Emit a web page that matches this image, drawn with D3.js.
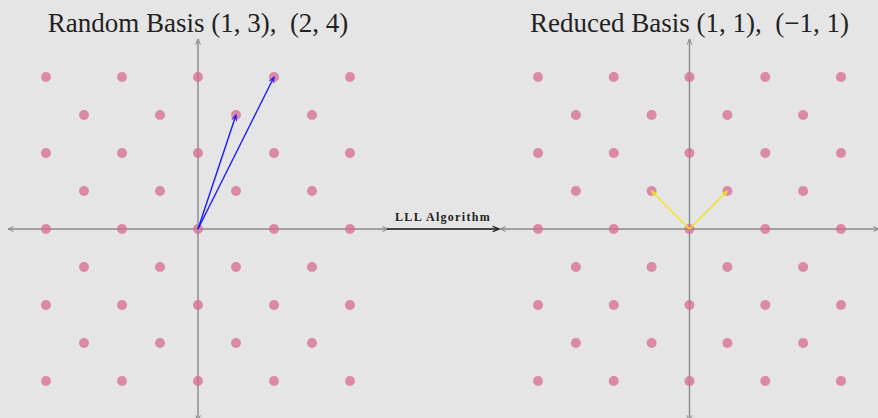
<!DOCTYPE html>
<html><head><meta charset="utf-8">
<script src="https://cdn.jsdelivr.net/npm/d3@7"></script>
<style>
html,body{margin:0;padding:0;background:#e5e5e5;}
svg{display:block;}
text{white-space:pre;}
.t{font-family:"Liberation Serif","DejaVu Serif",serif;}
</style></head>
<body>
<svg id="c" width="878" height="418"></svg>
<script>
// Lattice points (x + y even) in [-4,4]
const latticePoints = [
  [-4,4],[-2,4],[0,4],[2,4],[4,4],
  [-3,3],[-1,3],[1,3],[3,3],
  [-4,2],[-2,2],[0,2],[2,2],[4,2],
  [-3,1],[-1,1],[1,1],[3,1],
  [-4,0],[-2,0],[0,0],[2,0],[4,0],
  [-3,-1],[-1,-1],[1,-1],[3,-1],
  [-4,-2],[-2,-2],[0,-2],[2,-2],[4,-2],
  [-3,-3],[-1,-3],[1,-3],[3,-3],
  [-4,-4],[-2,-4],[0,-4],[2,-4],[4,-4]
];
const randomBasis = [[1,3],[2,4]];
const reducedBasis = [[1,1],[-1,1]];
const titles = ["Random Basis (1, 3),  (2, 4)", "Reduced Basis (1, 1),  (\u22121, 1)"];
const arrowLabel = "LLL Algorithm";

const svg = d3.select("#c");
const defs = svg.append("defs");
function marker(id, color, size){
  defs.append("marker").attr("id", id).attr("viewBox","0 0 10 10")
    .attr("refX", 9).attr("refY", 5).attr("markerWidth", size).attr("markerHeight", size)
    .attr("orient","auto-start-reverse").attr("markerUnits","userSpaceOnUse")
    .append("path").attr("d","M1,1.5 L9,5 L1,8.5").attr("fill","none")
    .attr("stroke", color).attr("stroke-width", 1.4);
}
marker("ax","#888",7);
marker("blue","#1a1aff",7);
marker("yel","#f0e020",7);
marker("blk","#111",8);

const y = d3.scaleLinear().domain([-4,4]).range([381,77]);
const panels = [
  {x: d3.scaleLinear().domain([-4,4]).range([46,350]), basis: randomBasis, color:"#1a1aff", m:"blue", title: titles[0]},
  {x: d3.scaleLinear().domain([-4,4]).range([538,841]), basis: reducedBasis, color:"#f2e41c", m:"yel", title: titles[1]}
];

panels.forEach(p => {
  const g = svg.append("g");
  g.append("line").attr("x1", p.x(-5)).attr("x2", p.x(5)).attr("y1", y(0)).attr("y2", y(0))
    .attr("stroke","#8a8a8a").attr("stroke-width",1.4)
    .attr("marker-start","url(#ax)").attr("marker-end","url(#ax)");
  g.append("line").attr("x1", p.x(0)).attr("x2", p.x(0)).attr("y1", y(-5.05)).attr("y2", y(5))
    .attr("stroke","#8a8a8a").attr("stroke-width",1.4)
    .attr("marker-start","url(#ax)").attr("marker-end","url(#ax)");
  g.selectAll("circle").data(latticePoints).join("circle")
    .attr("cx", d => p.x(d[0])).attr("cy", d => y(d[1])).attr("r", 5)
    .attr("fill","#d66a92").attr("fill-opacity",0.75);
  g.selectAll("line.v").data(p.basis).join("line").attr("class","v")
    .attr("x1", p.x(0)).attr("y1", y(0))
    .attr("x2", d => p.x(d[0])).attr("y2", d => y(d[1]))
    .attr("stroke", p.color).attr("stroke-width",1.4)
    .attr("marker-end", `url(#${p.m})`);
  svg.append("text").attr("class","t").attr("x", p.x(0)).attr("y", 32).attr("text-anchor","middle")
    .attr("font-size", 27).attr("fill","#222").text(p.title);
});

svg.append("line").attr("x1", 387).attr("x2", 499).attr("y1", y(0)).attr("y2", y(0))
  .attr("stroke","#111").attr("stroke-width",1.3).attr("marker-end","url(#blk)");
svg.append("text").attr("class","t").attr("x", 443).attr("y", 221).attr("text-anchor","middle")
  .attr("font-weight","bold").attr("font-size", 12).attr("letter-spacing", 1.3)
  .attr("fill","#222").text(arrowLabel);
</script>
</body></html>
